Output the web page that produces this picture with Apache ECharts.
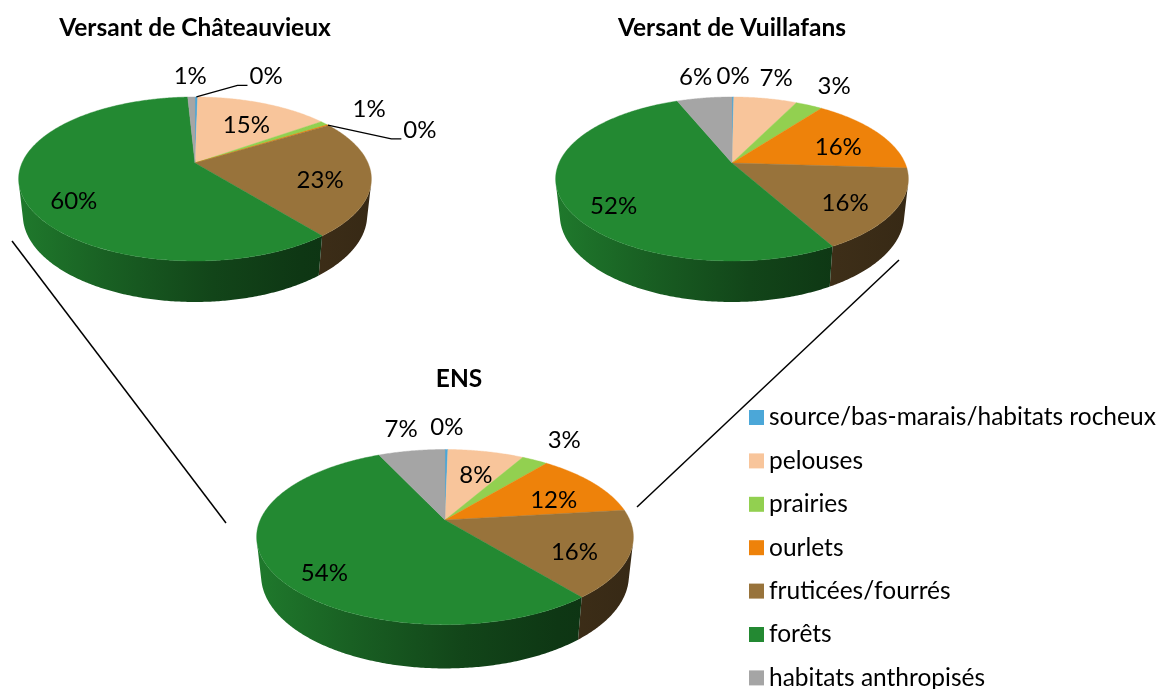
<!DOCTYPE html>
<html><head><meta charset="utf-8">
<script src="https://cdn.jsdelivr.net/npm/echarts@6/dist/echarts.min.js"></script>
<style>html,body{margin:0;padding:0;background:#fff}#c{width:1165px;height:689px}</style>
</head><body><div id="c"></div>
<script>
// ---------- data ----------
const categories = ['source/bas-marais/habitats rocheux','pelouses','prairies','ourlets','fruticées/fourrés','forêts','habitats anthropisés'];
const pieTitles = ['Versant de Châteauvieux','Versant de Vuillafans','ENS'];
const chateauvieux = [0.3, 14.8, 0.9, 0.2, 23.1, 59.9, 0.8];
const vuillafans   = [0.2, 7.0, 3.0, 15.8, 16.0, 51.9, 6.1];
const ens          = [0.3, 7.9, 2.7, 12.2, 16.1, 53.9, 6.9];
const pieValues = [chateauvieux, vuillafans, ens];

// ---------- style / layout ----------
const colors = ['#4BA7D8','#F8C59B','#92D050','#EE820A','#98733B','#238932','#A5A5A5'];
const pieLayout = [{cx:195, cy:163, s:1}, {cx:732, cy:163, s:1}, {cx:445, cy:520, s:1.068}];
const titlePos = [[195,28],[732,28],[459,379]];
const FONT = 'Lato, "Open Sans", sans-serif';
const LABEL_SIZE = 24, LEGEND_SIZE = 24.5, TITLE_SIZE = 24.5;
const P3D = {R:0.219, sinT:0.456, cosT:0.8899, f:790, h:0.0516};
const SIDE_A = Math.acos(-P3D.R / P3D.cosT), SIDE_B = 2*Math.PI - SIDE_A;

function project(p, theta, r, depth) {
  const L = pieLayout[p];
  const x = P3D.R*r*Math.sin(theta), z = -P3D.R*r*Math.cos(theta), y = depth*P3D.h;
  const Y = z*P3D.sinT + y*P3D.cosT, Zc = 1 - z*P3D.cosT + y*P3D.sinT;
  return [L.cx + L.s*P3D.f*x/Zc, L.cy + L.s*P3D.f*Y/Zc];
}
function sliceAngles(p) {
  const v = pieValues[p]; const tot = v.reduce((a,b)=>a+b,0);
  let acc = 0;
  return v.map(d => { const a0 = acc/tot*2*Math.PI; acc += d; return [a0, acc/tot*2*Math.PI, d/tot*100]; });
}
function shade(hex, f) {
  const n = parseInt(hex.slice(1),16);
  const r = Math.round(((n>>16)&255)*f), g = Math.round(((n>>8)&255)*f), b = Math.round((n&255)*f);
  return 'rgb('+r+','+g+','+b+')';
}
function arcPoints(p, a0, a1, r, depth) {
  const n = Math.max(2, Math.ceil((a1-a0)/0.01));
  const pts = [];
  for (let i=0;i<=n;i++) pts.push(project(p, a0+(a1-a0)*i/n, r, depth));
  return pts;
}

function makeRender(k) {
  return function(params, api) {
    const p = api.value(0);
    const [a0, a1] = sliceAngles(p)[k];
    const children = [];
    if (a1 - a0 < 1e-9) return {type:'group', children};
    const s0 = Math.max(a0, SIDE_A), s1 = Math.min(a1, SIDE_B);
    if (s1 > s0) {
      const top = arcPoints(p, s0, s1, 1, 0);
      const bot = arcPoints(p, s0, s1, 1, 1).reverse();
      const xl = project(p, SIDE_B, 1, 0)[0], xr = project(p, SIDE_A, 1, 0)[0];
      const c = colors[k];
      children.push({
        type:'polygon', shape:{points: top.concat(bot)},
        style:{
          fill:{type:'linear', x:xl, y:0, x2:xr, y2:0, global:true, colorStops:[
            {offset:0, color:shade(c,0.88)}, {offset:0.25, color:shade(c,0.7)},
            {offset:0.55, color:shade(c,0.5)}, {offset:0.8, color:shade(c,0.4)},
            {offset:1, color:shade(c,0.36)}]},
          stroke:null
        }
      });
    }
    const pts = [project(p, 0, 0, 0)].concat(arcPoints(p, a0, a1, 1, 0));
    children.push({type:'polygon', shape:{points:pts}, style:{fill:colors[k], stroke:colors[k], lineWidth:0.4}});
    return {type:'group', children};
  };
}

// ---------- label layout (computed from the data) ----------
const mctx = document.createElement('canvas').getContext('2d');
function measure(t) { mctx.font = LABEL_SIZE + 'px ' + FONT; return mctx.measureText(t).width; }
function bbox(it) {
  const x0 = it.align === 'left' ? it.x : it.x - it.w/2;
  return {x0, x1:x0+it.w, y0:it.y-LABEL_SIZE/2, y1:it.y+LABEL_SIZE/2};
}
function overlap(a, b) { return a.x0 < b.x1 && b.x0 < a.x1 && a.y0 < b.y1 && b.y0 < a.y1; }
const labelLayouts = pieValues.map((v, p) => {
  const items = sliceAngles(p).map(([a0,a1,pct], k) => {
    const mid = (a0+a1)/2, text = Math.round(pct) + '%', w = measure(text);
    if (pct >= 7.5) {
      const pt = project(p, mid, 0.72, pct > 40 ? 0.45 : 0.2);
      return {k, text, w, pct, mid, x:pt[0], y:pt[1], align:'center', inside:true};
    }
    const pt = project(p, mid, 1.4, 0);
    return {k, text, w, pct, mid, x:pt[0], y:pt[1], align:'center', inside:false};
  });
  const outs = items.filter(i => !i.inside).sort((a,b) => b.pct - a.pct);
  const placed = [];
  outs.forEach(it => {
    if (placed.some(q => overlap(q, bbox(it)))) {
      const t = project(p, it.mid + 16*Math.PI/180, 1.33, 0);
      const e = project(p, it.mid, 1, 0);
      it.x = t[0] + 2; it.y = t[1] - 6; it.align = 'left';
      it.leader = [e, [t[0]-10, t[1]+3], [t[0], t[1]+3]];
    }
    placed.push(bbox(it));
  });
  return items;
});

function renderLabels(params, api) {
  const p = api.value(0);
  const children = [];
  labelLayouts[p].forEach(it => {
    if (it.leader) children.push({type:'polyline', shape:{points:it.leader}, style:{stroke:'#000', lineWidth:1.3, fill:null}});
    children.push({type:'text', x:it.x, y:it.y, style:{text:it.text, fill:'#000', font:LABEL_SIZE+'px '+FONT, align:it.align, verticalAlign:'middle'}});
  });
  return {type:'group', children};
}

const series = categories.map((name, k) => ({
  type:'custom', name, coordinateSystem:'none', renderItem: makeRender(k),
  itemStyle:{color: colors[k]}, data: pieValues.map((v,p) => [p, v[k]]), silent:true
}));
series.push({type:'custom', name:'labels', coordinateSystem:'none', renderItem: renderLabels, z:10,
  data: pieValues.map((v,p) => [p]), silent:true});

const chart = echarts.init(document.getElementById('c'), null, {renderer:'canvas'});
chart.setOption({
  animation:false,
  backgroundColor:'#fff',
  legend:{
    orient:'vertical', left:749, top:405, height:300, itemWidth:15, itemHeight:15, itemGap:18.4, icon:'rect',
    padding:0, data:categories, selectedMode:false,
    textStyle:{fontFamily:FONT, fontSize:LEGEND_SIZE, color:'#000', lineHeight:24}
  },
  graphic: [
    {type:'line', shape:{x1:12, y1:241, x2:226, y2:523}, style:{stroke:'#000', lineWidth:1.5}},
    {type:'line', shape:{x1:637, y1:507, x2:899, y2:260}, style:{stroke:'#000', lineWidth:1.5}}
  ].concat(pieTitles.map((t,i) => ({type:'text', x:titlePos[i][0], y:titlePos[i][1],
    style:{text:t, fill:'#000', font:'bold '+TITLE_SIZE+'px '+FONT, align:'center', verticalAlign:'middle'}}))),
  series
});
</script></body></html>
